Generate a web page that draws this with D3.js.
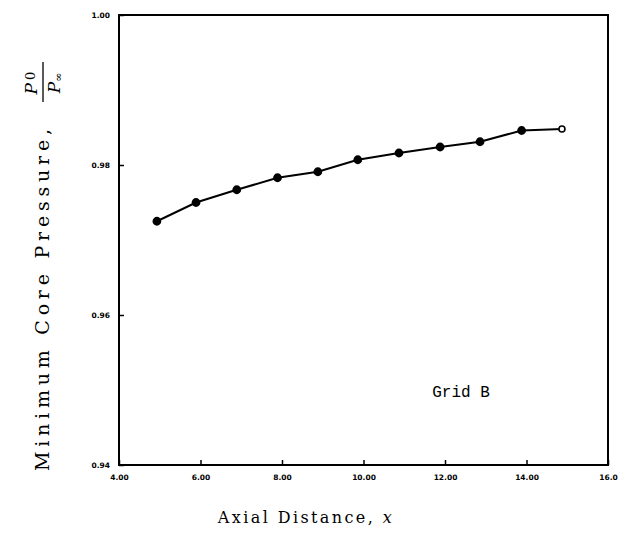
<!DOCTYPE html>
<html>
<head>
<meta charset="utf-8">
<script src="https://cdn.jsdelivr.net/npm/d3@7"></script>
<style>
  body { margin: 0; background: #fff; }
  svg { display: block; }
</style>
</head>
<body>
<script>
// values
var xVals = [4.93, 5.89, 6.89, 7.89, 8.88, 9.86, 10.87, 11.88, 12.86, 13.88, 14.87];
var pVals = [0.9725, 0.9750, 0.9767, 0.9783, 0.9791, 0.9807, 0.9816, 0.9824, 0.9831, 0.9846, 0.9848];
var xTicks = [4, 6, 8, 10, 12, 14, 16];
var xTickLabels = ["4.00", "6.00", "8.00", "10.00", "12.00", "14.00", "16.0"];
var yTicks = [0.94, 0.96, 0.98, 1.00];
var yTickLabels = ["0.94", "0.96", "0.98", "1.00"];

var W = 618, H = 533;
var svg = d3.select("body").append("svg").attr("width", W).attr("height", H);

var x = d3.scaleLinear().domain([4, 16]).range([119, 608]);
var y = d3.scaleLinear().domain([0.94, 1.00]).range([465, 15]);

// frame
svg.append("rect")
  .attr("x", x(4)).attr("y", y(1.00))
  .attr("width", x(16) - x(4)).attr("height", y(0.94) - y(1.00))
  .style("fill", "none").style("stroke", "#000").style("stroke-width", 2);

var xAxis = d3.axisBottom(x).tickValues(xTicks).tickSize(-5).tickPadding(10)
  .tickFormat(function (d, i) { return xTickLabels[i]; });
var yAxis = d3.axisLeft(y).tickValues(yTicks).tickSize(-5).tickPadding(9)
  .tickFormat(function (d, i) { return yTickLabels[i]; });

var gx = svg.append("g").attr("transform", "translate(0," + y(0.94) + ")").call(xAxis);
var gy = svg.append("g").attr("transform", "translate(" + x(4) + ",0)").call(yAxis);
[gx, gy].forEach(function (g) {
  g.select(".domain").remove();
  g.selectAll(".tick line").style("stroke", "#000").style("stroke-width", 1.5);
  g.selectAll(".tick text")
    .style("font-family", "'DejaVu Sans', Arial, sans-serif")
    .style("font-weight", "bold")
    .style("font-size", "7.5px")
    .style("fill", "#000");
});

// data line
var line = d3.line()
  .x(function (d, i) { return x(xVals[i]); })
  .y(function (d) { return y(d); });

svg.append("path")
  .datum(pVals)
  .attr("d", line)
  .style("fill", "none").style("stroke", "#000").style("stroke-width", 2);

svg.append("g").selectAll("circle").data(pVals).enter().append("circle")
  .attr("cx", function (d, i) { return x(xVals[i]); })
  .attr("cy", function (d) { return y(d); })
  .attr("r", function (d, i) { return i == pVals.length - 1 ? 3 : 3.6; })
  .style("fill", function (d, i) { return i == pVals.length - 1 ? "#fff" : "#000"; })
  .style("stroke", "#000").style("stroke-width", 1.6);

// annotation
svg.append("text")
  .attr("x", 461).attr("y", 397)
  .style("text-anchor", "middle")
  .style("font-family", "'Liberation Mono', 'DejaVu Sans Mono', monospace")
  .style("font-size", "16px")
  .style("fill", "#000")
  .text("Grid B");

// x label
var xl = svg.append("text")
  .attr("x", 306).attr("y", 523)
  .style("text-anchor", "middle")
  .style("font-family", "'DejaVu Serif', 'Liberation Serif', serif")
  .style("font-size", "16px")
  .style("letter-spacing", "2.4px")
  .style("fill", "#000");
xl.append("tspan").text("Axial Distance, ");
xl.append("tspan").style("font-style", "italic").text("x");

// y label, rotated
var yl = svg.append("g").attr("transform", "translate(42,300) rotate(-90)");
yl.append("text")
  .attr("x", 0).attr("y", 7)
  .attr("textLength", 342).attr("lengthAdjust", "spacing")
  .style("text-anchor", "middle")
  .style("font-family", "'DejaVu Serif', 'Liberation Serif', serif")
  .style("font-size", "19px")
  .style("fill", "#000")
  .text("Minimum Core Pressure,");

var num = yl.append("text")
  .attr("x", 217).attr("y", -5)
  .style("text-anchor", "middle")
  .style("font-family", "'DejaVu Serif', 'Liberation Serif', serif")
  .style("font-size", "17px")
  .style("fill", "#000");
num.append("tspan").style("font-style", "italic").text("P");
num.append("tspan").attr("dx", 3).attr("dy", -2).style("font-size", "13px").text("0");

yl.append("line")
  .attr("x1", 198).attr("x2", 238).attr("y1", 1).attr("y2", 1)
  .style("stroke", "#000").style("stroke-width", 1.3);

var den = yl.append("text")
  .attr("x", 217).attr("y", 18)
  .style("text-anchor", "middle")
  .style("font-family", "'DejaVu Serif', 'Liberation Serif', serif")
  .style("font-size", "17px")
  .style("fill", "#000");
den.append("tspan").style("font-style", "italic").text("P");
den.append("tspan").attr("dy", 2).style("font-size", "11px").text("\u221e");
</script>
</body>
</html>
